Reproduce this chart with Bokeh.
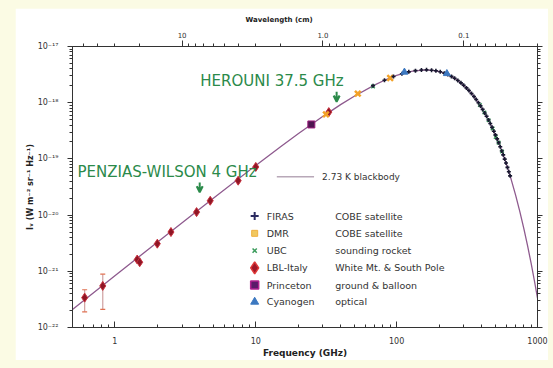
import math
from bokeh.plotting import figure
from bokeh.models import (LogAxis, FixedTicker, CustomJSTickFormatter, Whisker, TeeHead,
                          ColumnDataSource, Arrow, VeeHead)
from bokeh.embed import file_html
from bokeh.resources import INLINE
from bokeh.core.properties import value

# ---------------- data ----------------
curve_freq = [0.5, 1, 2, 5, 10, 15, 20, 30, 40, 50, 70, 85, 100, 115, 130, 160, 180, 200,
              225, 250, 275, 300, 350, 400, 450, 500, 550, 600, 650, 700, 750, 800, 850,
              900, 950, 1000]
curve_val = [2.084e-22, 8.30e-22, 3.291e-21, 2.0025e-20, 7.657e-20, 1.646e-19, 2.794e-19,
             5.719e-19, 9.227e-19, 1.305e-18, 2.081e-18, 2.611e-18, 3.060e-18, 3.409e-18,
             3.653e-18, 3.837e-18, 3.772e-18, 3.591e-18, 3.256e-18, 2.856e-18, 2.4376e-18,
             2.0315e-18, 1.3337e-18, 8.246e-19, 4.868e-19, 2.769e-19, 1.5272e-19, 8.21e-20,
             4.335e-20, 2.2407e-20, 1.1426e-20, 5.748e-21, 2.859e-21, 1.407e-21, 6.86e-22,
             3.317e-22]

firas_freq = [68, 82, 95, 109, 122, 136, 150, 163, 177, 190, 204, 218, 231, 245, 258, 272,
              286, 299, 313, 326, 340, 354, 367, 381, 394, 408, 422, 435, 449, 462, 476, 490,
              503, 517, 530, 544, 558, 571, 585, 598, 612, 626, 639]
firas_val = [2.005e-18, 2.511e-18, 2.921e-18, 3.282e-18, 3.538e-18, 3.720e-18, 3.819e-18,
             3.838e-18, 3.789e-18, 3.692e-18, 3.545e-18, 3.359e-18, 3.165e-18, 2.940e-18,
             2.723e-18, 2.487e-18, 2.256e-18, 2.049e-18, 1.834e-18, 1.646e-18, 1.459e-18,
             1.286e-18, 1.140e-18, 9.966e-19, 8.764e-19, 7.604e-19, 6.576e-19, 5.728e-19,
             4.922e-19, 4.264e-19, 3.646e-19, 3.107e-19, 2.673e-19, 2.269e-19, 1.945e-19,
             1.643e-19, 1.386e-19, 1.181e-19, 9.926e-20, 8.429e-20, 7.062e-20, 5.906e-20,
             4.996e-20]

dmr_freq = [31.5, 53.0, 90.0]
dmr_val = [6.2e-19, 1.45e-18, 2.75e-18]

ubc_freq = [68, 390, 420, 450, 480, 505, 530, 560]
ubc_val = [1.95e-18, 9.11e-19, 6.71e-19, 4.87e-19, 3.48e-19, 2.45e-19, 1.945e-19, 1.35e-19]

lbl_freq = [0.61, 0.82, 1.44, 1.50, 2.0, 2.5, 3.8, 4.75, 7.5, 10.0, 33.0]
lbl_val = [3.4e-22, 5.5e-22, 1.62e-21, 1.45e-21, 3.1e-21, 5.0e-21, 1.13e-20, 1.8e-20,
           4.1e-20, 7.2e-20, 6.8e-19]
lbl_err_freq = [0.61, 0.82]
lbl_err_low = [1.9e-22, 2.1e-22]
lbl_err_high = [4.7e-22, 8.9e-22]

princeton_freq = [24.8]
princeton_val = [4.1e-19]

cyan_freq = [113.6, 227.3]
cyan_val = [3.5e-18, 3.3e-18]

legend_names = ["FIRAS", "DMR", "UBC", "LBL-Italy", "Princeton", "Cyanogen"]
legend_descs = ["COBE satellite", "COBE satellite", "sounding rocket",
                "White Mt. & South Pole", "ground & balloon", "optical"]
blackbody_label = "2.73 K  blackbody"

heruni_freq = 37.5
pw_freq = 4.0
heruni_text = "HEROUNI 37.5 GHz"
pw_text = "PENZIAS-WILSON 4 GHz"

x_major = [1, 10, 100, 1000]
y_major = [1e-22, 1e-21, 1e-20, 1e-19, 1e-18, 1e-17]
wl_major = [10, 1.0, 0.1]   # wavelength ticks (cm)
wl_minor = [50, 40, 30, 20, 9, 8, 7, 6, 5, 4, 3, 2,
            0.9, 0.8, 0.7, 0.6, 0.5, 0.4, 0.3, 0.2,
            0.09, 0.08, 0.07, 0.06, 0.05, 0.04, 0.03]

# ---------------- geometry helpers (page pixels -> data) ----------------
XMIN, XMAX = 0.5, 1000
YMIN, YMAX = 1e-22, 1e-17
FL, FT, FW, FH = 72, 43, 462, 285


def fx(px):
    return 10 ** (math.log10(XMIN) + (px - FL) / FW * (math.log10(XMAX) - math.log10(XMIN)))


def fy(py):
    return 10 ** (math.log10(YMAX) - (py - FT) / FH * (math.log10(YMAX) - math.log10(YMIN)))


FONT = "DejaVu Sans"
GREEN = "#2b8a4a"
TXT = "#333333"

p = figure(width=533, height=352, x_axis_type="log", y_axis_type="log",
           x_range=(XMIN, XMAX), y_range=(YMIN, YMAX),
           output_backend="svg", toolbar_location=None, title="Wavelength (cm)",
           min_border_left=57, min_border_right=11, min_border_top=35, min_border_bottom=32)
p.background_fill_color = "white"
p.border_fill_color = "white"
p.outline_line_color = "#333333"
p.xgrid.visible = False
p.ygrid.visible = False

p.title.align = "left"
p.title.offset = 173
p.title.standoff = 10
p.title.text_font = FONT
p.title.text_font_size = "7px"
p.title.text_font_style = "bold"
p.title.text_color = "#222222"

y_minor = [m * t for t in y_major[:-1] for m in range(2, 10)]
x_minor = [0.6, 0.7, 0.8, 0.9] + [m * t for t in x_major[:-1] for m in range(2, 10)]

sup_js = """
const sup = {'-':'\u207b','0':'\u2070','1':'\u00b9','2':'\u00b2','3':'\u00b3','4':'\u2074',
             '5':'\u2075','6':'\u2076','7':'\u2077','8':'\u2078','9':'\u2079'};
const e = Math.round(Math.log10(tick));
return '10' + String(e).split('').map(c => sup[c]).join('');
"""


def style_axis(ax):
    ax.axis_line_color = "#333333"
    ax.major_tick_line_color = "#333333"
    ax.minor_tick_line_color = "#333333"
    ax.major_label_text_font = FONT
    ax.major_label_text_color = TXT
    ax.axis_label_text_font = FONT
    ax.axis_label_text_color = "#222222"
    ax.axis_label_text_font_style = "bold"


# left axis
ly = p.yaxis[0]
ly.ticker = FixedTicker(ticks=y_major, minor_ticks=y_minor)
ly.formatter = CustomJSTickFormatter(code=sup_js)
style_axis(ly)
ly.major_tick_out = 5
ly.major_tick_in = 0
ly.minor_tick_out = 3
ly.minor_tick_in = 0
ly.major_label_text_font_size = "8px"
ly.major_label_standoff = 9
ly.axis_label = "I\u1d65 (W m\u207b\u00b2 sr\u207b\u00b9 Hz\u207b\u00b9)"
ly.axis_label_text_font_size = "8px"
ly.axis_label_standoff = 0

# right axis
ry = LogAxis(ticker=FixedTicker(ticks=y_major, minor_ticks=y_minor),
             formatter=CustomJSTickFormatter(code="return '';"))
style_axis(ry)
ry.major_tick_out = 5
ry.major_tick_in = 0
ry.minor_tick_out = 3
ry.minor_tick_in = 0
ry.major_label_standoff = 0
ry.major_label_text_font_size = "0px"
p.add_layout(ry, "right")

# bottom axis
bx = p.xaxis[0]
bx.ticker = FixedTicker(ticks=x_major, minor_ticks=x_minor)
bx.formatter = CustomJSTickFormatter(code="return String(Math.round(tick));")
style_axis(bx)
bx.major_tick_in = 6
bx.major_tick_out = 0
bx.minor_tick_in = 3
bx.minor_tick_out = 0
bx.major_label_text_font_size = "8px"
bx.major_label_standoff = 9
bx.axis_label = "Frequency (GHz)"
bx.axis_label_text_font_size = "9px"
bx.axis_label_standoff = 1

# top axis (wavelength)
tx = LogAxis(ticker=FixedTicker(ticks=[30.0 / w for w in wl_major],
                                minor_ticks=[30.0 / w for w in wl_minor]),
             formatter=CustomJSTickFormatter(
                 code="const w = 30/tick; return (w >= 9.5) ? w.toFixed(0) : w.toFixed(1);"))
style_axis(tx)
tx.major_tick_out = 6
tx.major_tick_in = 0
tx.minor_tick_out = 3
tx.minor_tick_in = 0
tx.major_label_text_font_size = "7px"
tx.major_label_standoff = 3
p.add_layout(tx, "above")

# ---------------- curve and data ----------------
p.line(curve_freq, curve_val, line_color="#8e5a8e", line_width=1.3)

src_err = ColumnDataSource(dict(x=lbl_err_freq, lo=lbl_err_low, hi=lbl_err_high))
p.add_layout(Whisker(source=src_err, base="x", lower="lo", upper="hi", dimension="height",
                     line_color="#cfa0a0", line_width=1.2,
                     lower_head=TeeHead(size=5, line_color="#e07050", line_width=1.2),
                     upper_head=TeeHead(size=5, line_color="#e07050", line_width=1.2)))

p.scatter(lbl_freq, lbl_val, marker="diamond", size=9, fill_color="#8e1626",
          line_color="#c8303c", line_width=1)
p.scatter(princeton_freq, princeton_val, marker="square", size=7, fill_color="#4e1650",
          line_color="#a02080", line_width=1)
p.scatter(dmr_freq, dmr_val, marker="x", size=8, line_color="#f3a228", line_width=2.5)
p.scatter(ubc_freq, ubc_val, marker="x", size=5, line_color="#3c9c5c", line_width=1.5)
p.scatter(firas_freq, firas_val, marker="cross", size=4, line_color="#181830", line_width=1.6)
p.scatter(cyan_freq, cyan_val, marker="triangle", size=7, fill_color="#3c78c0",
          line_color="#3c78c0")

# ---------------- annotations ----------------
p.text(x=[fx(199)], y=[fy(78)], text=[heruni_text], text_font=value(FONT),
       text_font_size=value("15px"), text_color=GREEN, text_baseline="middle")
p.text(x=[fx(77)], y=[fy(170)], text=[pw_text], text_font=value(FONT),
       text_font_size=value("15px"), text_color=GREEN, text_baseline="middle")
p.add_layout(Arrow(end=VeeHead(size=6, line_color=GREEN, line_width=2, fill_color=None),
                   x_start=heruni_freq, y_start=fy(89), x_end=heruni_freq, y_end=fy(99),
                   line_color=GREEN, line_width=2))
p.add_layout(Arrow(end=VeeHead(size=6, line_color=GREEN, line_width=2, fill_color=None),
                   x_start=pw_freq, y_start=fy(181), x_end=pw_freq, y_end=fy(191),
                   line_color=GREEN, line_width=2))

# blackbody legend
p.line([fx(275), fx(312)], [fy(175), fy(175)], line_color="#b8a8b8", line_width=1.5)
p.text(x=[fx(320)], y=[fy(175)], text=[blackbody_label], text_font=value(FONT),
       text_font_size=value("9px"), text_color=TXT, text_baseline="middle")

# data legend
rows = [215, 232.5, 250, 267.5, 285, 302]
ly_pos = [fy(r) for r in rows]
mx = fx(253)
p.scatter([mx], [ly_pos[0]], marker="cross", size=8, line_color="#2a2a60", line_width=2)
p.scatter([mx], [ly_pos[1]], marker="square", size=6, fill_color="#f0c860",
          line_color="#f0b040", line_width=1)
p.scatter([mx], [ly_pos[2]], marker="x", size=6, line_color="#3c9c5c", line_width=1.5)
p.scatter([mx], [ly_pos[3]], marker="diamond", size=12, fill_color="#a01828",
          line_color="#e03838", line_width=1.5)
p.scatter([mx], [ly_pos[4]], marker="square", size=8, fill_color="#5a1a6a",
          line_color="#b02090", line_width=1.5)
p.scatter([mx], [ly_pos[5]], marker="triangle", size=8, fill_color="#3c78c0",
          line_color="#3c78c0")
p.text(x=[fx(265)] * 6, y=ly_pos, text=legend_names, text_font=value(FONT),
       text_font_size=value("9.5px"), text_color=TXT, text_baseline="middle")
p.text(x=[fx(333)] * 6, y=ly_pos, text=legend_descs, text_font=value(FONT),
       text_font_size=value("9.5px"), text_color=TXT, text_baseline="middle")

html = file_html(p, INLINE)
html = html.replace("<body>", '<body style="background-color:#fbfbe4; padding:8px 0 0 15px;">')
open("out.html", "w").write(html)
